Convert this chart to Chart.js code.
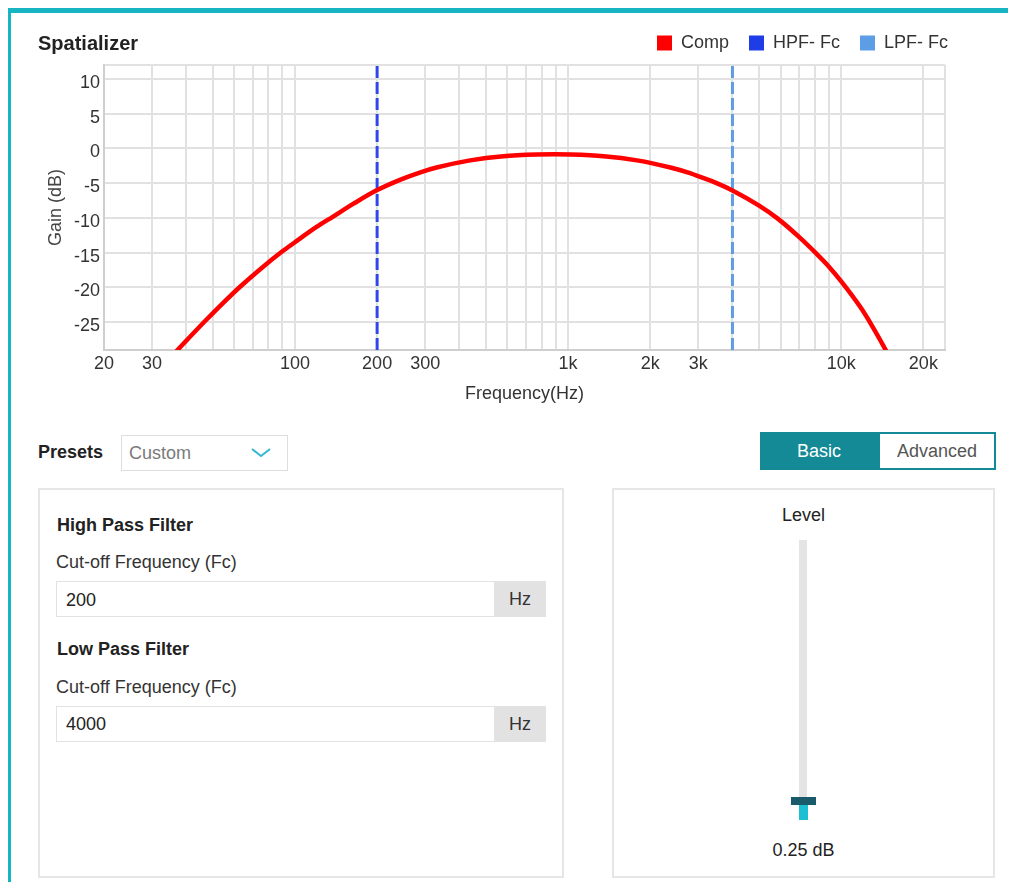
<!DOCTYPE html>
<html>
<head>
<meta charset="utf-8">
<script src="https://cdn.jsdelivr.net/npm/chart.js@4.4.1/dist/chart.umd.min.js"></script>
<style>
  html, body { margin: 0; padding: 0; background: #fff; }
  body { width: 1012px; height: 882px; position: relative; overflow: hidden;
         font-family: 'Liberation Sans', Arial, sans-serif; color: #333; }
  .abs { position: absolute; box-sizing: border-box; }
  .t { position: absolute; font-size: 18px; line-height: 18px; white-space: nowrap; }
  .b { font-weight: bold; color: #222; }
  .ctr { display: flex; align-items: center; justify-content: center; font-size: 18px; }
</style>
</head>
<body>
<!-- teal frame -->
<div class="abs" style="left:8px;top:8px;width:1000px;height:5px;background:#17b4c4"></div>
<div class="abs" style="left:8px;top:8px;width:3px;height:874px;background:#17b4c4"></div>

<canvas id="c" width="1012" height="420" style="position:absolute;left:0;top:0"></canvas>
<div class="t b" style="left:38px;top:33px;font-size:20px;line-height:20px">Spatializer</div>

<!-- presets -->
<div class="t b" style="left:38px;top:443px">Presets</div>
<div class="abs" style="left:121px;top:435px;width:167px;height:36px;border:1px solid #dedede"></div>
<div class="t" style="left:129px;top:444px;color:#7a7a7a">Custom</div>
<svg class="abs" style="left:250px;top:447px" width="22" height="12"><polyline points="2,2 11,9 20,2" fill="none" stroke="#35b6d2" stroke-width="2"/></svg>

<!-- basic / advanced -->
<div class="abs ctr" style="left:760px;top:432px;width:118px;height:38px;background:#138a96;color:#fff">Basic</div>
<div class="abs ctr" style="left:878px;top:432px;width:118px;height:38px;border:2px solid #138a96;color:#555;background:#fff">Advanced</div>

<!-- left panel -->
<div class="abs" style="left:38px;top:488px;width:526px;height:390px;border:2px solid #e6e6e6"></div>
<div class="t b" style="left:57px;top:516px">High Pass Filter</div>
<div class="t" style="left:56px;top:553px">Cut-off Frequency (Fc)</div>
<div class="abs" style="left:56px;top:581px;width:490px;height:36px;border:1px solid #e2e2e2"></div>
<div class="t" style="left:66px;top:591px;color:#222">200</div>
<div class="abs ctr" style="left:494px;top:581px;width:52px;height:36px;background:#e2e2e2;color:#333">Hz</div>
<div class="t b" style="left:57px;top:640px">Low Pass Filter</div>
<div class="t" style="left:56px;top:678px">Cut-off Frequency (Fc)</div>
<div class="abs" style="left:56px;top:706px;width:490px;height:36px;border:1px solid #e2e2e2"></div>
<div class="t" style="left:66px;top:715px;color:#222">4000</div>
<div class="abs ctr" style="left:494px;top:706px;width:52px;height:36px;background:#e2e2e2;color:#333">Hz</div>

<!-- right panel -->
<div class="abs" style="left:612px;top:488px;width:383px;height:390px;border:2px solid #e6e6e6"></div>
<div class="t" style="left:612px;width:383px;text-align:center;top:506px;color:#222">Level</div>
<div class="abs" style="left:799px;top:540px;width:8px;height:260px;background:#e4e4e4"></div>
<div class="abs" style="left:799px;top:805px;width:9px;height:15px;background:#1cc0d2"></div>
<div class="abs" style="left:791px;top:797px;width:25px;height:8px;background:#1a5b6b"></div>
<div class="t" style="left:612px;width:383px;text-align:center;top:841px;color:#222">0.25 dB</div>

<script>
// ---- data ----
const freqHz = [35, 37.6, 47, 55, 63, 75, 90, 100, 120, 138, 164, 200, 245, 290, 330, 438, 580, 769, 894, 1019, 1350, 1790, 2370, 2740, 3100, 3500, 4000, 4990, 5860, 7040, 8050, 8970, 10040, 11790, 12830, 14560, 15500];
const gainDb = [-30.1, -28.8, -24.8, -22.1, -19.9, -17.3, -14.8, -13.5, -11.3, -9.8, -7.95, -6.0, -4.45, -3.4, -2.75, -1.72, -1.12, -0.88, -0.85, -0.88, -1.12, -1.72, -2.75, -3.45, -4.2, -5.0, -6.05, -8.2, -10.1, -12.8, -15.0, -16.9, -19.2, -22.9, -25.2, -29.0, -31.0];
const hpfFc = 200;
const lpfFc = 4000;
const seriesLabels = ['Comp', 'HPF- Fc', 'LPF- Fc'];
const xMin = 20, xMax = 24000;
const yMin = -29, yMax = 12;
const xGridValues = [20,30,40,50,60,70,80,90,100,200,300,400,500,600,700,800,900,1000,2000,3000,4000,5000,6000,7000,8000,9000,10000,20000,24000];
const xTickValues = [20, 30, 100, 200, 300, 1000, 2000, 3000, 10000, 20000];
const xTickText = ['20', '30', '100', '200', '300', '1k', '2k', '3k', '10k', '20k'];
const yTickValues = [-25, -20, -15, -10, -5, 0, 5, 10];

Chart.defaults.font.family = "'Liberation Sans', Arial, sans-serif";
Chart.defaults.font.size = 18;
Chart.defaults.color = '#333';

const legendGap = {
  id: 'legendGap',
  beforeLayout(chart) {
    const lg = chart.legend;
    if (lg && !lg._gapPatched) {
      const fit = lg.fit;
      lg.fit = function () { fit.call(this); this.height += 3; };
      lg._gapPatched = true;
    }
  }
};

const gridOpts = { color: '#e1e1e1', lineWidth: 2, drawTicks: false };
const borderOpts = { color: '#cfcfcf', width: 2 };

new Chart(document.getElementById('c'), {
  type: 'line',
  data: {
    datasets: [
      { label: seriesLabels[0], data: freqHz.map((f, i) => ({ x: f, y: gainDb[i] })),
        borderColor: '#ff0000', backgroundColor: '#ff0000', borderWidth: 4.5,
        pointRadius: 0, cubicInterpolationMode: 'monotone', fill: false },
      { label: seriesLabels[1], data: [{ x: hpfFc, y: yMin }, { x: hpfFc, y: yMax }],
        borderColor: '#2f48e6', backgroundColor: '#1f3de6', borderWidth: 3,
        borderDash: [12, 4], pointRadius: 0, fill: false },
      { label: seriesLabels[2], data: [{ x: lpfFc, y: yMin }, { x: lpfFc, y: yMax }],
        borderColor: '#5c9de6', backgroundColor: '#5c9de6', borderWidth: 3,
        borderDash: [12, 4], pointRadius: 0, fill: false }
    ]
  },
  options: {
    responsive: false,
    devicePixelRatio: 1,
    animation: false,
    events: [],
    layout: { padding: { left: 41, right: 44, top: 14, bottom: 11 } },
    plugins: {
      tooltip: { enabled: false },
      legend: {
        position: 'top', align: 'end',
        labels: {
          boxWidth: 15, boxHeight: 15, padding: 20, color: '#333', font: { size: 18 },
          generateLabels: (chart) => Chart.defaults.plugins.legend.labels.generateLabels(chart)
            .map(l => Object.assign(l, { lineWidth: 0, lineDash: [] }))
        }
      }
    },
    scales: {
      x: {
        type: 'logarithmic', min: xMin, max: xMax,
        afterBuildTicks: (a) => { a.ticks = xGridValues.map(v => ({ value: v })); },
        ticks: {
          autoSkip: false, maxRotation: 0, minRotation: 0, padding: 3, color: '#333',
          callback: (v) => { const i = xTickValues.indexOf(v); return i >= 0 ? xTickText[i] : ''; }
        },
        grid: gridOpts, border: borderOpts,
        title: { display: true, text: 'Frequency(Hz)', color: '#333', font: { size: 18 } },
        afterFit: (a) => { a.height = 59; }
      },
      y: {
        type: 'linear', min: yMin, max: yMax,
        afterBuildTicks: (a) => { a.ticks = [yMin, ...yTickValues, yMax].map(v => ({ value: v })); },
        ticks: { padding: 4, color: '#333', labelOffset: 4,
          callback: (v) => yTickValues.includes(v) ? String(v) : '' },
        grid: gridOpts, border: borderOpts,
        title: { display: true, text: 'Gain (dB)', color: '#444', font: { size: 18 } },
        afterFit: (a) => { a.width = 63; }
      },
      y2: {
        position: 'right', display: true,
        grid: { display: false }, border: { display: false }, ticks: { display: false },
        afterFit: (a) => { a.width = 23; }
      }
    }
  },
  plugins: [legendGap]
});
</script>
</body>
</html>
